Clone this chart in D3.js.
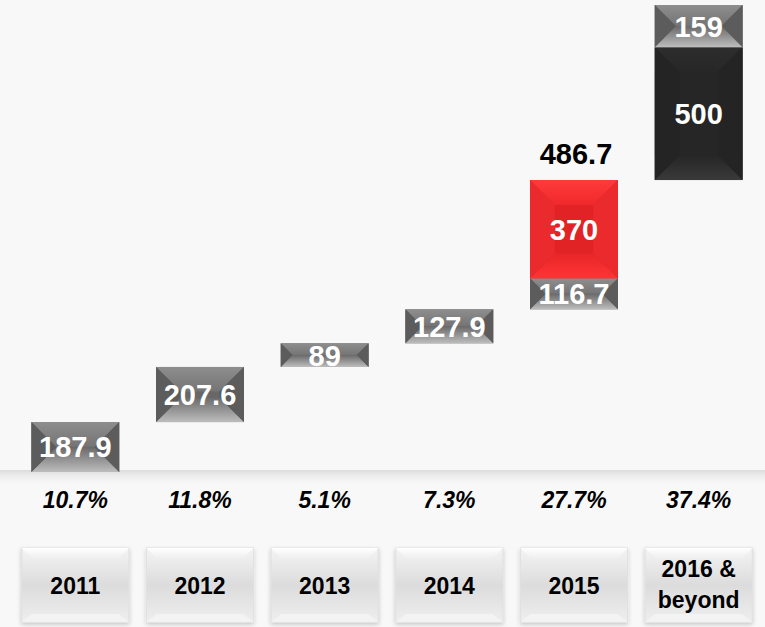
<!DOCTYPE html>
<html>
<head>
<meta charset="utf-8">
<script src="https://cdn.jsdelivr.net/npm/d3@7"></script>
<style>
  html, body { margin: 0; padding: 0; background: #f8f8f8; }
  svg { display: block; font-family: "Liberation Sans", Arial, sans-serif; }
</style>
</head>
<body>
<div id="chart"></div>
<script>
// waterfall data, segments listed in stacking order
const categories = ["2011", "2012", "2013", "2014", "2015", "2016 & beyond"];
const segmentCats = ["2011", "2012", "2013", "2014", "2015", "2015", "2016 & beyond", "2016 & beyond"];
const segmentValues = [187.9, 207.6, 89, 127.9, 116.7, 370, 500, 159];
const segmentTones = ["grey", "grey", "grey", "grey", "grey", "red", "dark", "grey"];
const growthLabels = ["10.7%", "11.8%", "5.1%", "7.3%", "27.7%", "37.4%"];
const totalCats = ["2015"];
const totalValues = [486.7];

const width = 765, height = 627;

const svg = d3.select("#chart").append("svg")
    .attr("width", width)
    .attr("height", height);

const defs = svg.append("defs");

function grad(id, stops, vertical = true) {
    const g = defs.append("linearGradient").attr("id", id)
        .attr("x1", 0).attr("y1", 0)
        .attr("x2", vertical ? 0 : 1).attr("y2", vertical ? 1 : 0);
    stops.forEach(s => g.append("stop").attr("offset", s[0]).attr("stop-color", s[1]));
}

const tones = {
    grey: {center: "#676767", side: "#5c5c5c", top: ["#8e8e8e", "#747474"], bottom: ["#6a6a6a", "#bdbdbd"]},
    red: {center: "#e12326", side: "#ea2a2c", top: ["#ff3a3a", "#f02a2c"], bottom: ["#e82628", "#ff3434"]},
    dark: {center: "#262626", side: "#242424", top: ["#2d2d2d", "#272727"], bottom: ["#262626", "#3a3a3a"]}
};
Object.entries(tones).forEach(([k, t]) => {
    grad("top-" + k, [[0, t.top[0]], [1, t.top[1]]]);
    grad("bot-" + k, [[0, t.bottom[0]], [1, t.bottom[1]]]);
});
grad("floor", [[0, "#dcdcdc"], [0.4, "#ececec"], [1, "#f8f8f8"]]);
grad("boxFace", [[0, "#f4f4f4"], [0.5, "#dcdcdc"], [1, "#eeeeee"]]);
grad("boxTop", [[0, "#ffffff"], [1, "#ececec"]]);

const shadow = defs.append("filter").attr("id", "shadow")
    .attr("x", "-10%").attr("y", "-10%").attr("width", "120%").attr("height", "125%");
shadow.append("feDropShadow").attr("dx", 0).attr("dy", 2).attr("stdDeviation", 2)
    .attr("flood-color", "#000").attr("flood-opacity", 0.2);

const x = d3.scaleBand().domain(categories).range([13, 761]).padding(0);
const step = x.bandwidth();
const barW = step * 0.705;
const boxW = step * 0.86;

const total = d3.sum(segmentValues);
const y = d3.scaleLinear().domain([0, total]).range([472, 5]);

// running start of each segment
let run = 0;
const segments = segmentValues.map((v, i) => {
    const s = {cat: segmentCats[i], value: v, tone: segmentTones[i], y0: run, y1: run + v};
    run += v;
    return s;
});

// floor shadow
svg.append("rect")
    .attr("x", 0).attr("y", 470).attr("width", width).attr("height", 14)
    .attr("fill", "url(#floor)");

function bevelBar(g, bx, by, w, h, tone) {
    const t = tones[tone];
    const b = Math.min(w * 0.28, h / 2);
    g.append("rect").attr("x", bx).attr("y", by).attr("width", w).attr("height", h).attr("fill", t.center);
    const pts = p => p.map(q => q.join(",")).join(" ");
    g.append("polygon").attr("fill", "url(#top-" + tone + ")")
        .attr("points", pts([[bx, by], [bx + w, by], [bx + w - b, by + b], [bx + b, by + b]]));
    g.append("polygon").attr("fill", "url(#bot-" + tone + ")")
        .attr("points", pts([[bx + b, by + h - b], [bx + w - b, by + h - b], [bx + w, by + h], [bx, by + h]]));
    g.append("polygon").attr("fill", t.side)
        .attr("points", pts([[bx, by], [bx + b, by + b], [bx + b, by + h - b], [bx, by + h]]));
    g.append("polygon").attr("fill", t.side)
        .attr("points", pts([[bx + w, by], [bx + w - b, by + b], [bx + w - b, by + h - b], [bx + w, by + h]]));
}

const bars = svg.append("g");
segments.forEach(s => {
    const bx = x(s.cat) + (step - barW) / 2;
    const by = y(s.y1);
    const h = y(s.y0) - y(s.y1);
    bevelBar(bars, bx, by, barW, h, s.tone);
});

bars.selectAll("text.val")
    .data(segments)
    .join("text")
    .attr("class", "val")
    .attr("x", d => x(d.cat) + step / 2)
    .attr("y", d => (y(d.y0) + y(d.y1)) / 2)
    .attr("dy", "0.36em")
    .attr("text-anchor", "middle")
    .attr("fill", "#fff")
    .attr("font-weight", "bold")
    .attr("font-size", 29)
    .text(d => d.value);

// total label above 2015 stack
svg.selectAll("text.total")
    .data(totalCats)
    .join("text")
    .attr("class", "total")
    .attr("x", d => x(d) + step / 2 + 2)
    .attr("y", (d, i) => y(d3.max(segments.filter(s => s.cat === d), s => s.y1)) - 16)
    .attr("text-anchor", "middle")
    .attr("font-weight", "bold")
    .attr("font-size", 29)
    .attr("fill", "#000")
    .text((d, i) => totalValues[i]);

// growth percentages
svg.selectAll("text.pct")
    .data(categories)
    .join("text")
    .attr("class", "pct")
    .attr("x", d => x(d) + step / 2)
    .attr("y", 508)
    .attr("text-anchor", "middle")
    .attr("font-weight", "bold")
    .attr("font-style", "italic")
    .attr("font-size", 23)
    .attr("fill", "#000")
    .text((d, i) => growthLabels[i]);

// category boxes
const boxes = svg.append("g").selectAll("g")
    .data(categories)
    .join("g")
    .attr("transform", d => `translate(${x(d) + (step - boxW) / 2},548)`);

boxes.append("rect")
    .attr("width", boxW).attr("height", 74)
    .attr("fill", "url(#boxFace)")
    .attr("stroke", "#e0e0e0")
    .attr("filter", "url(#shadow)");
boxes.append("polygon")
    .attr("points", `0,0 ${boxW},0 ${boxW - 12},12 12,12`)
    .attr("fill", "url(#boxTop)");
boxes.append("polygon")
    .attr("points", `0,74 ${boxW},74 ${boxW - 10},66 10,66`)
    .attr("fill", "#f3f3f3");

boxes.each(function (d) {
    const lines = d === "2016 & beyond" ? ["2016 &", "beyond"] : [d];
    const t = d3.select(this).append("text")
        .attr("text-anchor", "middle")
        .attr("font-weight", "bold")
        .attr("font-size", 23)
        .attr("fill", "#000");
    lines.forEach((l, i) => {
        t.append("tspan")
            .attr("x", boxW / 2)
            .attr("y", lines.length === 1 ? 46 : 29 + i * 31)
            .text(l);
    });
});
</script>
</body>
</html>
